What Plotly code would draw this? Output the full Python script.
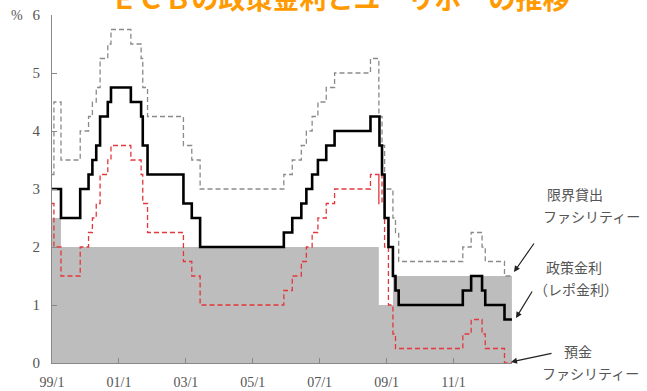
import plotly.graph_objects as go

# ECB key interest rates (step changes, effective dates)
mro_dates = ["1999-01-01", "1999-04-09", "1999-11-05", "2000-02-04", "2000-03-17", "2000-04-28",
             "2000-06-09", "2000-09-01", "2000-10-06", "2001-05-11", "2001-08-31", "2001-09-18",
             "2001-11-09", "2002-12-06", "2003-03-07", "2003-06-06", "2005-12-06", "2006-03-08",
             "2006-06-15", "2006-08-09", "2006-10-11", "2006-12-13", "2007-03-14", "2007-06-13",
             "2008-07-09", "2008-10-15", "2008-11-12", "2008-12-10", "2009-01-21", "2009-03-11",
             "2009-04-08", "2009-05-13", "2011-04-13", "2011-07-13", "2011-11-09", "2011-12-14",
             "2012-07-11", "2012-09-30"]
mro_rates = [3.00, 2.50, 3.00, 3.25, 3.50, 3.75,
             4.25, 4.50, 4.75, 4.50, 4.25, 3.75,
             3.25, 2.75, 2.50, 2.00, 2.25, 2.50,
             2.75, 3.00, 3.25, 3.50, 3.75, 4.00,
             4.25, 3.75, 3.25, 2.50, 2.00, 1.50,
             1.25, 1.00, 1.25, 1.50, 1.25, 1.00,
             0.75, 0.75]

mlf_dates = ["1999-01-01", "1999-01-22", "1999-04-09", "1999-11-05", "2000-02-04", "2000-03-17",
             "2000-04-28", "2000-06-09", "2000-09-01", "2000-10-06", "2001-05-11", "2001-08-31",
             "2001-09-18", "2001-11-09", "2002-12-06", "2003-03-07", "2003-06-06", "2005-12-06",
             "2006-03-08", "2006-06-15", "2006-08-09", "2006-10-11", "2006-12-13", "2007-03-14",
             "2007-06-13", "2008-07-09", "2008-10-08", "2008-10-09", "2008-11-12", "2008-12-10",
             "2009-03-11", "2009-04-08", "2009-05-13", "2011-04-13", "2011-07-13", "2011-11-09",
             "2011-12-14", "2012-07-11", "2012-09-30"]
mlf_rates = [3.25, 4.50, 3.50, 4.00, 4.25, 4.50,
             4.75, 5.25, 5.50, 5.75, 5.50, 5.25,
             4.75, 4.25, 3.75, 3.50, 3.00, 3.25,
             3.50, 3.75, 4.00, 4.25, 4.50, 4.75,
             5.00, 5.25, 4.75, 4.25, 3.75, 3.00,
             2.50, 2.25, 1.75, 2.00, 2.25, 2.00,
             1.75, 1.50, 1.50]

df_dates = ["1999-01-01", "1999-01-22", "1999-04-09", "1999-11-05", "2000-02-04", "2000-03-17",
            "2000-04-28", "2000-06-09", "2000-09-01", "2000-10-06", "2001-05-11", "2001-08-31",
            "2001-09-18", "2001-11-09", "2002-12-06", "2003-03-07", "2003-06-06", "2005-12-06",
            "2006-03-08", "2006-06-15", "2006-08-09", "2006-10-11", "2006-12-13", "2007-03-14",
            "2007-06-13", "2008-07-09", "2008-10-08", "2008-10-09", "2008-11-12", "2008-12-10",
            "2009-01-21", "2009-03-11", "2009-04-08", "2011-04-13", "2011-07-13", "2011-11-09",
            "2011-12-14", "2012-07-11", "2012-09-30"]
df_rates = [2.75, 2.00, 1.50, 2.00, 2.25, 2.50,
            2.75, 3.25, 3.50, 3.75, 3.50, 3.25,
            2.75, 2.25, 1.75, 1.50, 1.00, 1.25,
            1.50, 1.75, 2.00, 2.25, 2.50, 2.75,
            3.00, 3.25, 2.75, 3.25, 2.75, 2.00,
            1.00, 0.50, 0.25, 0.50, 0.75, 0.50,
            0.25, 0.00, 0.00]

# shaded band
band_dates = ["1999-01-01", "1999-04-09", "2008-10-08", "2009-03-11", "2012-09-30"]
band_values = [2.5, 2.0, 1.0, 1.5, 1.5]

tick_dates = ["1999-01-01", "2001-01-01", "2003-01-01", "2005-01-01",
              "2007-01-01", "2009-01-01", "2011-01-01"]
tick_labels = ["99/1", "01/1", "03/1", "05/1", "07/1", "09/1", "11/1"]

W, H = 647, 391
ML, MR, MT, MB = 52, 135, 15, 28
PW, PH = W - ML - MR, H - MT - MB


def px(x):
    return (x - ML) / PW


def py(y):
    return (H - MB - y) / PH


fig = go.Figure()
fig.add_trace(go.Scatter(x=band_dates, y=band_values, mode="lines", line_shape="hv",
                         line=dict(width=0), fill="tozeroy", fillcolor="#bdbdbd",
                         showlegend=False, hoverinfo="skip"))
fig.add_trace(go.Scatter(x=df_dates, y=df_rates, mode="lines", line_shape="hv",
                         line=dict(color="#e3373c", width=1.3, dash="5px,3px"),
                         name="預金ファシリティー", showlegend=False))
fig.add_trace(go.Scatter(x=mlf_dates, y=mlf_rates, mode="lines", line_shape="hv",
                         line=dict(color="#8a8a8a", width=1.3, dash="5px,3px"),
                         name="限界貸出ファシリティー", showlegend=False))
fig.add_trace(go.Scatter(x=mro_dates, y=mro_rates, mode="lines", line_shape="hv",
                         line=dict(color="#000000", width=2.6),
                         name="政策金利（レポ金利）", showlegend=False))

serif = "Liberation Serif, DejaVu Serif, serif"
jp = "Noto Sans CJK JP, sans-serif"
gray_txt = "#555555"

annotations = []
# "%" unit label
annotations.append(dict(x=px(17), y=py(15), xref="paper", yref="paper", text="%",
                        showarrow=False, xanchor="center", yanchor="middle",
                        font=dict(family=serif, size=14, color=gray_txt)))

labels = [
    ("限界貸出", 575, 194),
    ("ファシリティー", 591, 216),
    ("政策金利", 574, 267),
    ("（レポ金利）", 576, 289),
    ("預金", 578, 351),
    ("ファシリティー", 590, 373),
]
for txt, lx, ly in labels:
    annotations.append(dict(x=px(lx), y=py(ly), xref="paper", yref="paper", text=txt,
                            showarrow=False, xanchor="center", yanchor="middle",
                            font=dict(family=jp, size=14, color=gray_txt)))

arrows = [
    ((514, 272), (535, 242)),
    ((516, 318), (533, 290)),
    ((511, 362), (553, 353)),
]
for (tx, ty), (sx, sy) in arrows:
    annotations.append(dict(x=px(tx), y=py(ty), xref="paper", yref="paper", text="",
                            showarrow=True, ax=sx - tx, ay=sy - ty,
                            arrowhead=2, arrowsize=1, arrowwidth=1.2, arrowcolor="#222222"))

fig.update_layout(
    width=W, height=H,
    margin=dict(l=ML, r=MR, t=MT, b=MB, pad=0, autoexpand=False),
    paper_bgcolor="white", plot_bgcolor="white",
    title=dict(text="ＥＣＢの政策金利とユーリボーの推移", x=340 / W, xanchor="center",
               xref="container", y=1.0, yref="container", yanchor="middle",
               font=dict(family=jp, size=27, color="#ff9a00", weight="bold")),
    annotations=annotations,
)
fig.update_xaxes(type="date", range=["1999-01-01", "2012-10-01"],
                 tickvals=tick_dates, ticktext=tick_labels,
                 ticks="inside", ticklen=5, tickcolor="#888888",
                 showline=True, linecolor="#888888", linewidth=1,
                 showgrid=False, zeroline=False, ticklabelstandoff=6, automargin=False,
                 tickfont=dict(family=serif, size=14, color=gray_txt))
fig.update_yaxes(range=[0, 6], tickvals=[0, 1, 2, 3, 4, 5, 6],
                 ticks="inside", ticklen=5, tickcolor="#888888",
                 showline=True, linecolor="#888888", linewidth=1,
                 showgrid=False, zeroline=False, ticklabelstandoff=8, automargin=False,
                 tickfont=dict(family=serif, size=15, color=gray_txt))

fig.write_html("out.html")
